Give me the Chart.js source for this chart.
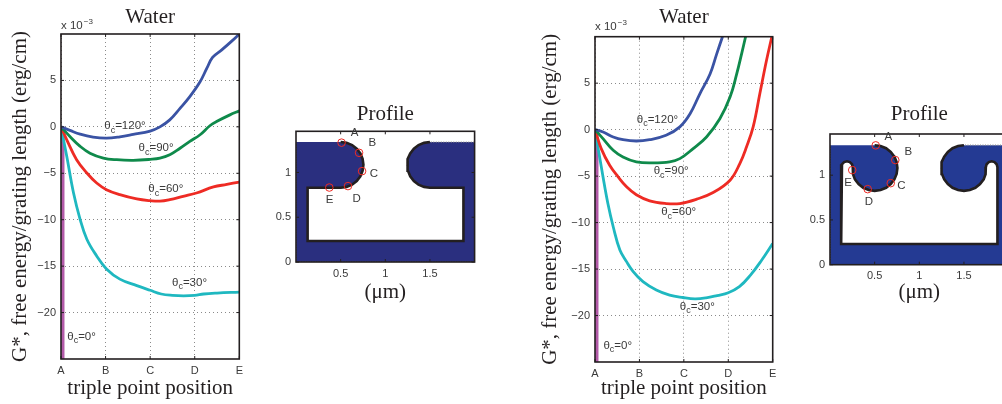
<!DOCTYPE html>
<html>
<head>
<meta charset="utf-8">
<title>Water</title>
<script src="https://cdn.jsdelivr.net/npm/chart.js@4/dist/chart.umd.min.js"></script>
<style>
    html, body { margin: 0; padding: 0; background: #fff; overflow: hidden; }
    #wrap { position: relative; width: 1002px; height: 404px; overflow: hidden; }
    canvas { position: absolute; }
</style>
</head>
<body>
<div id="wrap">
    <canvas id="water1" width="250" height="404" style="left:0;top:0"></canvas>
    <canvas id="profile1" width="240" height="220" style="left:260px;top:90px"></canvas>
    <canvas id="water2" width="260" height="404" style="left:530px;top:0"></canvas>
    <canvas id="profile2" width="240" height="220" style="left:790px;top:90px"></canvas>
</div>
<script>
//-------------
//- DATA      -
//-------------
var positionTicks = [0, 1, 2, 3, 4];
var positionLabels = ["A", "B", "C", "D", "E"];
var energyTicks = [-20, -15, -10, -5, 0, 5];
var micronXTicks = [0.5, 1, 1.5];
var micronYTicks = [0, 0.5, 1];
var angleLabels = ["120°", "90°", "60°", "30°", "0°"];
var pointNames = ["A", "B", "C", "D", "E"];

// left water panel
var w1_120_x = [0, 0.2, 0.43, 0.72, 1.02, 1.32, 1.62, 2, 2.22, 2.44, 2.67, 2.89, 3.12, 3.27, 3.4, 3.6, 3.83, 4];
var w1_120_y = [0, -0.38, -0.79, -1.11, -1.22, -1.08, -0.82, -0.45, 0, 0.75, 1.99, 3.26, 4.86, 6.29, 7.47, 8.26, 9.23, 10];
var w1_90_x = [0, 0.2, 0.43, 0.65, 0.95, 1.25, 1.62, 2, 2.22, 2.44, 2.67, 2.89, 3.12, 3.34, 3.49, 3.79, 4];
var w1_90_y = [0, -1.04, -2.1, -2.83, -3.36, -3.54, -3.6, -3.5, -3.37, -3, -2.3, -1.57, -0.85, 0.12, 0.57, 1.29, 1.72];
var w1_60_x = [0, 0.13, 0.35, 0.58, 0.8, 1.02, 1.32, 1.7, 2, 2.22, 2.44, 2.74, 3.04, 3.42, 3.72, 4];
var w1_60_y = [0, -1.4, -3.54, -4.97, -6.05, -6.76, -7.3, -7.76, -7.95, -8, -7.84, -7.48, -7.12, -6.47, -6.2, -5.94];
var w1_30_x = [0, 0.13, 0.28, 0.43, 0.58, 0.8, 1.02, 1.32, 1.7, 2, 2.25, 2.5, 2.75, 3, 3.2, 3.5, 4];
var w1_30_y = [0, -3.19, -7.1, -9.98, -12.1, -13.9, -15.3, -16.4, -17.1, -17.6, -18, -18.15, -18.2, -18.15, -18, -17.9, -17.8];
var w1_0_x = [0.04, 0.04];
var w1_0_y = [0, -25];

// right water panel
var w2_120_x = [0, 0.18, 0.41, 0.63, 0.93, 1.23, 1.6, 1.91, 2.14, 2.36, 2.59, 2.74, 2.87];
var w2_120_y = [0, -0.25, -0.79, -1.08, -1.22, -1.08, -0.61, 0.3, 1.71, 3.86, 5.99, 8.15, 10];
var w2_90_x = [0, 0.18, 0.41, 0.63, 0.93, 1.3, 1.68, 1.91, 2.21, 2.51, 2.81, 3.04, 3.19, 3.3, 3.39];
var w2_90_y = [0, -0.97, -2.22, -2.94, -3.47, -3.58, -3.47, -3.12, -2.04, -0.79, 1.17, 3.5, 6, 8.15, 10];
var w2_60_x = [0, 0.14, 0.33, 0.52, 0.71, 0.93, 1.23, 1.6, 1.91, 2.29, 2.66, 3.04, 3.26, 3.41, 3.56, 3.71, 3.86, 3.98];
var w2_60_y = [0, -2.04, -3.83, -5.08, -6.15, -7.0, -7.66, -7.95, -7.95, -7.48, -6.77, -5.44, -3.65, -1.87, 0.29, 3.86, 7.43, 10];
var w2_30_x = [0, 0.18, 0.29, 0.41, 0.56, 0.71, 0.86, 1.08, 1.38, 1.68, 1.98, 2.25, 2.5, 2.75, 3, 3.25, 3.5, 3.75, 4];
var w2_30_y = [0, -5.08, -7.95, -10.45, -12.95, -14.2, -15.27, -16.35, -17.25, -17.8, -18.06, -18.2, -18.1, -17.85, -17.55, -16.9, -15.65, -14.05, -12.25];
var w2_0_x = [0.04, 0.04];
var w2_0_y = [0, -25];

// profile outlines, in microns
var p1_edge_x = [0.5, 0.566, 0.628, 0.68, 0.721, 0.746, 0.755, 0.746, 0.721, 0.68, 0.628, 0.566, 0.5, 0.13, 0.13, 1.875, 1.875, 1.5, 1.434, 1.372, 1.32, 1.279, 1.254, 1.245, 1.254, 1.279, 1.32, 1.372, 1.434, 1.5];
var p1_edge_y = [1.34, 1.331, 1.306, 1.265, 1.212, 1.151, 1.085, 1.019, 0.958, 0.905, 0.864, 0.839, 0.83, 0.83, 0.235, 0.235, 0.83, 0.83, 0.839, 0.864, 0.905, 0.958, 1.019, 1.085, 1.151, 1.212, 1.265, 1.306, 1.331, 1.34];
var p2_edge_x = [0.5, 0.566, 0.628, 0.68, 0.721, 0.746, 0.755, 0.746, 0.721, 0.68, 0.628, 0.566, 0.5, 0.434, 0.372, 0.32, 0.279, 0.258, 0.255, 0.246, 0.222, 0.19, 0.158, 0.134, 0.125, 0.125, 1.875, 1.875, 1.866, 1.842, 1.81, 1.778, 1.754, 1.745, 1.742, 1.721, 1.68, 1.628, 1.566, 1.5, 1.434, 1.372, 1.32, 1.279, 1.254, 1.245, 1.254, 1.279, 1.32, 1.372, 1.434, 1.5];
var p2_edge_y = [1.335, 1.326, 1.301, 1.26, 1.207, 1.146, 1.08, 1.014, 0.953, 0.9, 0.859, 0.834, 0.825, 0.834, 0.859, 0.9, 0.953, 1.01, 1.09, 1.122, 1.146, 1.155, 1.146, 1.122, 1.09, 0.232, 0.232, 1.09, 1.122, 1.146, 1.155, 1.146, 1.122, 1.09, 1.01, 0.953, 0.9, 0.859, 0.834, 0.825, 0.834, 0.859, 0.9, 0.953, 1.014, 1.08, 1.146, 1.207, 1.26, 1.301, 1.326, 1.335];
var p1_outer_x = [2, 2, 0, 0];
var p1_outer_y = [1.34, 0, 0, 1.34];
var p2_outer_x = [2, 2, 0, 0];
var p2_outer_y = [1.335, 0, 0, 1.335];

// triple point positions on the profile
var p1_marks_x = [0.51, 0.706, 0.74, 0.582, 0.373];
var p1_marks_y = [1.333, 1.22, 1.015, 0.848, 0.832];
var p2_marks_x = [0.512, 0.731, 0.68, 0.422, 0.249];
var p2_marks_y = [1.333, 1.169, 0.911, 0.844, 1.057];

//-------------
//- STYLES    -
//-------------
var SERIF = "'Liberation Serif', serif";
var SANS = "'Liberation Sans', sans-serif";
var INK = "#231f20";
var TICK_INK = "#3a3a3a";
var curveColors = ["#3a53a4", "#0f8a4b", "#ee2b24", "#1fb8c0", "#b25aa8"];

function points(xs, ys) {
    return xs.map((x, i) => ({ x: x, y: ys[i] }));
}

function curve(xs, ys, color, straight) {
    return {
        data: points(xs, ys),
        showLine: true,
        borderColor: color,
        borderWidth: straight ? 3.4 : 2.8,
        pointRadius: 0,
        fill: false,
        tension: straight ? 0 : 0.4,
    };
}

// frame, inward ticks, and the small annotations
function decorPlugin(cfg) {
    return {
        id: "decor",
        beforeDatasetsDraw(chart) {
            if (!cfg.fillColor) return;
            var ctx = chart.ctx;
            var pts = chart.getDatasetMeta(0).data;
            ctx.save();
            ctx.beginPath();
            pts.forEach((p, i) => (i ? ctx.lineTo(p.x, p.y) : ctx.moveTo(p.x, p.y)));
            ctx.closePath();
            ctx.fillStyle = cfg.fillColor;
            ctx.fill();
            ctx.restore();
        },
        afterDatasetsDraw(chart) {
            var ctx = chart.ctx;
            var a = chart.chartArea;
            var sx = chart.scales.x;
            var sy = chart.scales.y;
            ctx.save();
            ctx.strokeStyle = INK;
            ctx.lineWidth = 1.6;
            ctx.strokeRect(a.left, a.top, a.right - a.left, a.bottom - a.top);
            ctx.lineWidth = 1;
            ctx.beginPath();
            sx.ticks.forEach((t) => {
                var px = sx.getPixelForValue(t.value);
                ctx.moveTo(px, a.top);
                ctx.lineTo(px, a.top + 3);
                ctx.moveTo(px, a.bottom);
                ctx.lineTo(px, a.bottom - 3);
            });
            sy.ticks.forEach((t) => {
                var py = sy.getPixelForValue(t.value);
                ctx.moveTo(a.left, py);
                ctx.lineTo(a.left + 3, py);
                ctx.moveTo(a.right, py);
                ctx.lineTo(a.right - 3, py);
            });
            ctx.stroke();

            ctx.fillStyle = TICK_INK;
            ctx.textBaseline = "alphabetic";
            ctx.textAlign = "left";
            if (cfg.exponentGap) {
                var ey = a.top - cfg.exponentGap;
                ctx.font = "11.5px " + SANS;
                ctx.fillText("x 10", a.left, ey);
                var ew = ctx.measureText("x 10").width;
                ctx.font = "8px " + SANS;
                ctx.fillText("\u22123", a.left + ew + 1, ey - 5);
            }
            if (cfg.angles) {
                angleLabels.forEach((label, i) => {
                    var px = sx.getPixelForValue(cfg.angles[i][0]);
                    var py = sy.getPixelForValue(cfg.angles[i][1]);
                    ctx.font = "11.5px " + SANS;
                    ctx.fillText("θ", px, py);
                    var w = ctx.measureText("θ").width;
                    ctx.font = "9px " + SANS;
                    ctx.fillText("c", px + w, py + 3.5);
                    var w2 = ctx.measureText("c").width;
                    ctx.font = "11.5px " + SANS;
                    ctx.fillText("=" + label, px + w + w2, py);
                });
            }
            if (cfg.names) {
                ctx.font = "11.5px " + SANS;
                ctx.textAlign = "center";
                ctx.textBaseline = "middle";
                pointNames.forEach((name, i) => {
                    ctx.fillText(name, sx.getPixelForValue(cfg.names[i][0]), sy.getPixelForValue(cfg.names[i][1]));
                });
            }
            ctx.restore();
        },
    };
}

// builds one panel; box is the plot rectangle inside the canvas
function panel(id, box, cfg) {
    var canvas = document.getElementById(id);
    var titleFont = 21;
    var titleTop = cfg.titleTop;
    var grid = cfg.grid
        ? { display: true, color: "#8a8a8a", lineWidth: 1, drawTicks: false }
        : { display: false, drawTicks: false };
    return new Chart(canvas, {
        type: "scatter",
        data: { datasets: cfg.datasets },
        options: {
            responsive: false,
            animation: false,
            layout: {
                autoPadding: false,
                padding: { left: 0, top: 0, right: canvas.width - box.right, bottom: 0 },
            },
            plugins: {
                legend: { display: false },
                tooltip: { enabled: false },
                title: {
                    display: true,
                    text: cfg.title,
                    fullSize: false,
                    color: INK,
                    font: { family: SERIF, size: titleFont, weight: "normal", lineHeight: 1.2 },
                    padding: { top: titleTop, bottom: box.top - titleTop - titleFont * 1.2 },
                },
            },
            scales: {
                x: {
                    type: "linear",
                    min: cfg.xRange[0],
                    max: cfg.xRange[1],
                    afterBuildTicks: (s) => { s.ticks = cfg.xTicks.map((v) => ({ value: v })); },
                    afterFit: (s) => { s.height = canvas.height - box.bottom; },
                    grid: grid,
                    border: { display: false, dash: cfg.grid ? [1, 3] : undefined },
                    ticks: {
                        color: TICK_INK,
                        padding: 5,
                        maxRotation: 0,
                        autoSkip: false,
                        font: { family: SANS, size: 11 },
                        callback: cfg.xFormat,
                    },
                    title: {
                        display: true,
                        text: cfg.xTitle,
                        color: INK,
                        font: { family: SERIF, size: 21, lineHeight: 1.2 },
                        padding: { top: 0, bottom: cfg.xTitlePad },
                    },
                },
                y: {
                    type: "linear",
                    min: cfg.yRange[0],
                    max: cfg.yRange[1],
                    afterBuildTicks: (s) => { s.ticks = cfg.yTicks.map((v) => ({ value: v })); },
                    afterFit: (s) => { s.width = box.left; },
                    grid: grid,
                    border: { display: false, dash: cfg.grid ? [1, 3] : undefined },
                    ticks: {
                        color: TICK_INK,
                        padding: 5,
                        autoSkip: false,
                        font: { family: SANS, size: 11 },
                        callback: (v) => String(v).replace("-", "\u2212"),
                    },
                    title: {
                        display: !!cfg.yTitle,
                        text: cfg.yTitle,
                        color: INK,
                        font: { family: SERIF, size: 21, lineHeight: 1.2 },
                        padding: { top: 8, bottom: 0 },
                    },
                },
            },
        },
        plugins: [decorPlugin(cfg)],
    });
}

function profileDatasets(edgeX, edgeY, outerX, outerY, marksX, marksY) {
    return [
        {
            // closed shape, the dotted part of its border is the top surface
            data: points(edgeX.concat(outerX), edgeY.concat(outerY)),
            showLine: true,
            order: 3,
            borderColor: "#8c8c8c",
            borderWidth: 1.2,
            borderDash: [1, 1.5],
            pointRadius: 0,
            tension: 0,
        },
        {
            data: points(edgeX, edgeY),
            showLine: true,
            order: 2,
            borderColor: INK,
            borderWidth: 2.6,
            pointRadius: 0,
            tension: 0,
        },
        {
            data: points(marksX, marksY),
            showLine: false,
            order: 1,
            pointRadius: 3.8,
            pointBorderColor: "#ee2b24",
            pointBorderWidth: 1,
            pointBackgroundColor: "rgba(0,0,0,0)",
        },
    ];
}

var waterCommon = {
    title: "Water",
    titleTop: 5,
    grid: true,
    exponentGap: 5,
    xRange: [0, 4],
    yRange: [-25, 10],
    xTicks: positionTicks,
    yTicks: energyTicks,
    xFormat: (v) => positionLabels[v],
    xTitle: "triple point position",
    xTitlePad: 3,
    yTitle: "G*, free energy/grating length (erg/cm)",
};
var profileCommon = {
    title: "Profile",
    titleTop: 12,
    grid: false,
    xRange: [0, 2],
    yRange: [0, 1.46],
    xTicks: micronXTicks,
    yTicks: micronYTicks,
    xFormat: (v) => String(v),
    xTitle: "(μm)",
    xTitlePad: 5,
    yTitle: "",
};

//-------------
//- PANELS    -
//-------------
panel("water1", { left: 61, right: 239.3, top: 34, bottom: 359 }, Object.assign({}, waterCommon, {
    angles: [[0.97, -0.25], [1.74, -2.65], [1.96, -7.05], [2.49, -17.1], [0.14, -22.9]],
    datasets: [
        curve(w1_120_x, w1_120_y, curveColors[0]),
        curve(w1_90_x, w1_90_y, curveColors[1]),
        curve(w1_60_x, w1_60_y, curveColors[2]),
        curve(w1_30_x, w1_30_y, curveColors[3]),
        curve(w1_0_x, w1_0_y, curveColors[4], true),
    ],
}));

panel("water2", { left: 65, right: 242.7, top: 36.7, bottom: 362 }, Object.assign({}, waterCommon, {
    exponentGap: 6.7,
    angles: [[0.94, 0.72], [1.32, -4.8], [1.49, -9.2], [1.91, -19.4], [0.19, -23.55]],
    datasets: [
        curve(w2_120_x, w2_120_y, curveColors[0]),
        curve(w2_90_x, w2_90_y, curveColors[1]),
        curve(w2_60_x, w2_60_y, curveColors[2]),
        curve(w2_30_x, w2_30_y, curveColors[3]),
        curve(w2_0_x, w2_0_y, curveColors[4], true),
    ],
}));

panel("profile1", { left: 36, right: 214.6, top: 41.3, bottom: 172 }, Object.assign({}, profileCommon, {
    fillColor: "#2a2f7f",
    names: [[0.657, 1.44], [0.854, 1.33], [0.873, 0.985], [0.68, 0.71], [0.377, 0.69]],
    datasets: profileDatasets(p1_edge_x, p1_edge_y, p1_outer_x, p1_outer_y, p1_marks_x, p1_marks_y),
}));

panel("profile2", { left: 40, right: 218.6, top: 44, bottom: 174.7 }, Object.assign({}, profileCommon, {
    fillColor: "#243a93",
    names: [[0.653, 1.427], [0.877, 1.265], [0.799, 0.885], [0.437, 0.699], [0.202, 0.911]],
    datasets: profileDatasets(p2_edge_x, p2_edge_y, p2_outer_x, p2_outer_y, p2_marks_x, p2_marks_y),
}));
</script>
</body>
</html>
